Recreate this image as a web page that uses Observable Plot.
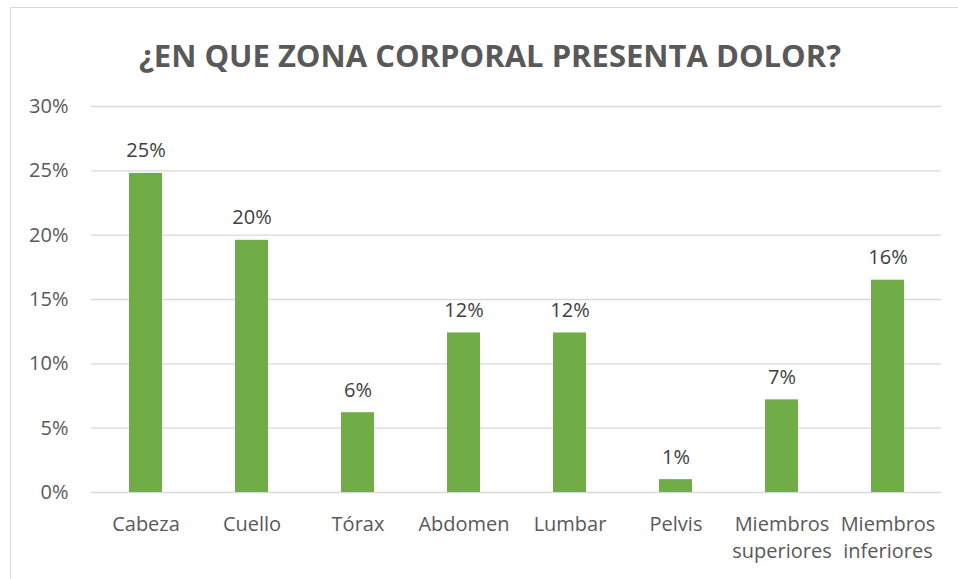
<!DOCTYPE html>
<html><head><meta charset="utf-8">
<script src="https://cdn.jsdelivr.net/npm/d3@7"></script>
<script src="https://cdn.jsdelivr.net/npm/@observablehq/plot@0.6"></script>
<style>
body{margin:0;background:#fff;font-family:"Open Sans",sans-serif;}
#wrap{position:relative;width:958px;height:579px;overflow:hidden;}
#frame{position:absolute;left:10px;top:7px;width:960px;height:600px;border:1px solid #d9d9d9;box-sizing:border-box;}
#title{position:absolute;left:11px;top:33px;width:958px;text-align:center;font-weight:700;font-size:31px;color:#595959;line-height:44px;white-space:nowrap;}
#chart{position:absolute;left:0;top:0;}
</style></head>
<body><div id="wrap"><div id="frame"></div><div id="title">¿EN QUE ZONA CORPORAL PRESENTA DOLOR?</div><div id="chart"></div></div>
<script>
const categories = ["Cabeza","Cuello","Tórax","Abdomen","Lumbar","Pelvis","Miembros\nsuperiores","Miembros\ninferiores"];
const values = [0.248, 0.196, 0.062, 0.124, 0.124, 0.010, 0.072, 0.165];
const labels = ["25%","20%","6%","12%","12%","1%","7%","16%"];
const yTicks = [0,0.05,0.10,0.15,0.20,0.25,0.30];

const data = categories.map((c,i)=>({c, v: values[i], l: labels[i]}));

const plot = Plot.plot({
  width: 958, height: 579,
  marginLeft: 91, marginRight: 17, marginTop: 106, marginBottom: 87,
  style: {fontFamily: '"Open Sans", sans-serif', background: "transparent", overflow: "visible"},
  x: {domain: categories, paddingInner: 0.69, paddingOuter: 0.345, label: null},
  y: {domain: [0, 0.3], label: null},
  marks: [
    Plot.gridY(yTicks, {stroke: "#d9d9d9", strokeOpacity: 1, strokeWidth: 1.3}),
    Plot.barY(data, {x: "c", y: "v", fill: "#70AD47"}),
    Plot.text(data, {x: "c", y: "v", text: "l", lineAnchor: "bottom", dy: -16, fontSize: 20, fill: "#404040"}),
    Plot.axisY({ticks: yTicks, tickSize: 0, tickPadding: 23, tickFormat: d => Math.round(d*100) + "%", fontSize: 20, color: "#595959", label: null}),
    Plot.axisX({tickSize: 0, tickPadding: 19, fontSize: 20, color: "#595959", label: null, lineHeight: 1.35})
  ]
});
document.getElementById("chart").appendChild(plot);
</script></body></html>
